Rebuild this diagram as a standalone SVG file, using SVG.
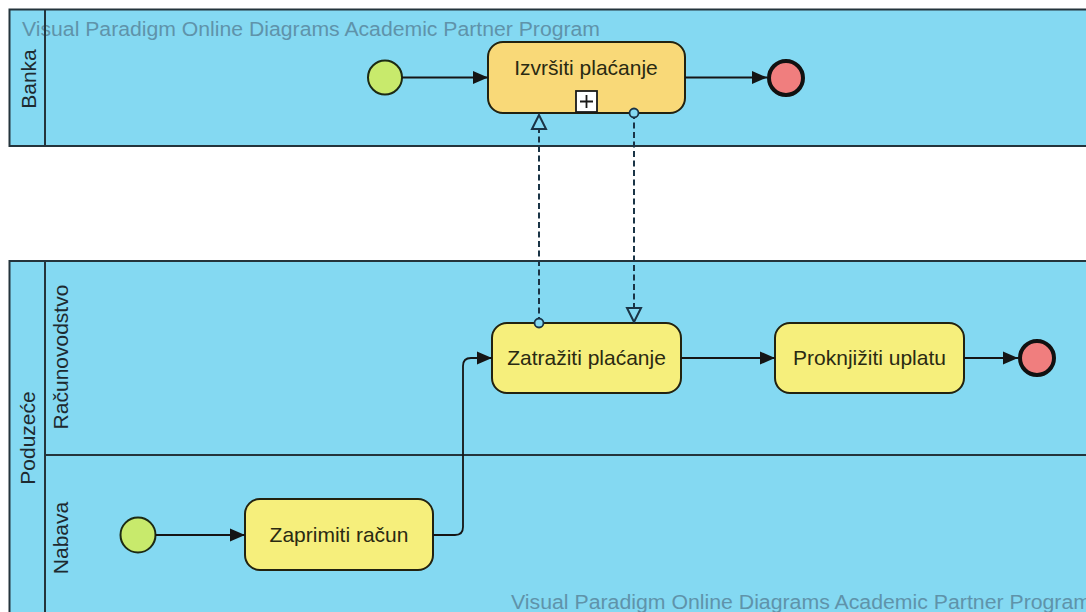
<svg xmlns="http://www.w3.org/2000/svg" width="1086" height="612" viewBox="0 0 1086 612">
<style>
.pool{fill:#84d9f2;stroke:#24343c;stroke-width:2}
.ln{stroke:#24343c;stroke-width:2;fill:none}
.lbl{font-family:"Liberation Sans",Arial,sans-serif;font-size:21px;fill:#1e2a30;text-anchor:middle}
.wm{font-family:"Liberation Sans",Arial,sans-serif;font-size:20px;fill:#5f93aa}
.taskA{fill:#f9d978;stroke:#222210;stroke-width:2}
.taskB{fill:#f6ef7c;stroke:#222210;stroke-width:2}
.tt{font-family:"Liberation Sans",Arial,sans-serif;font-size:21px;fill:#2a2a12;text-anchor:middle}
.start{fill:#c8ea6c;stroke:#1c2a14;stroke-width:2}
.end{fill:#f07e7e;stroke:#111;stroke-width:4}
.seq{stroke:#151515;stroke-width:1.8;fill:none;marker-end:url(#arr)}
.msg{stroke:#1a3446;stroke-width:2;fill:none;stroke-dasharray:6 3.5;marker-start:url(#mcirc);marker-end:url(#mtri)}
</style>
<defs>
<marker id="arr" markerUnits="userSpaceOnUse" markerWidth="16" markerHeight="16" refX="15" refY="8" orient="auto">
<path d="M0,1.5 L15,8 L0,14.5 z" fill="#151515"/>
</marker>
<marker id="mtri" markerUnits="userSpaceOnUse" markerWidth="18" markerHeight="18" refX="15" refY="9" orient="auto">
<path d="M1,2 L15,9 L1,16 z" fill="#84d9f2" stroke="#1a3446" stroke-width="2"/>
</marker>
<marker id="mcirc" markerUnits="userSpaceOnUse" markerWidth="12" markerHeight="12" refX="6" refY="6" orient="auto">
<circle cx="6" cy="6" r="4.5" fill="#84d9f2" stroke="#1a3446" stroke-width="1.8"/>
</marker>
</defs>

<g id="pool-banka">
<rect class="pool" x="9.5" y="9.5" width="1090" height="136.5"/>
<text class="wm" x="22" y="36" textLength="578" lengthAdjust="spacingAndGlyphs">Visual Paradigm Online Diagrams Academic Partner Program</text>
<line class="ln" x1="45" y1="9.5" x2="45" y2="146"/>
<text class="lbl" transform="translate(36,79) rotate(-90)">Banka</text>
</g>

<g id="pool-poduzece">
<rect class="pool" x="9.5" y="261" width="1090" height="360"/>
<line class="ln" x1="45" y1="261" x2="45" y2="620"/>
<line class="ln" x1="45" y1="455" x2="1090" y2="455"/>
<text class="lbl" transform="translate(35,438) rotate(-90)">Poduzeće</text>
<text class="lbl" transform="translate(68,357) rotate(-90)">Računovodstvo</text>
<text class="lbl" transform="translate(68,538) rotate(-90)">Nabava</text>
<text class="wm" x="511" y="609" textLength="580" lengthAdjust="spacingAndGlyphs">Visual Paradigm Online Diagrams Academic Partner Program</text>
</g>

<g id="start-banka"><circle class="start" cx="385" cy="77.5" r="17"/></g>
<g id="task-izvrsiti">
<rect class="taskA" x="488" y="42" width="197" height="71" rx="15"/>
<text class="tt" x="586" y="75">Izvršiti plaćanje</text>
<rect x="576" y="91" width="21" height="21" fill="#fff" stroke="#1a1a1a" stroke-width="1.8"/>
<path d="M580,101.5 H593 M586.5,95 V108" stroke="#1a1a1a" stroke-width="1.8"/>
</g>
<g id="end-banka"><circle class="end" cx="786" cy="78" r="17"/></g>

<g id="task-zatraziti">
<rect class="taskB" x="492" y="323" width="189" height="70" rx="15"/>
<text class="tt" x="586.5" y="365">Zatražiti plaćanje</text>
</g>
<g id="task-proknjiziti">
<rect class="taskB" x="775" y="323" width="189" height="70" rx="15"/>
<text class="tt" x="869.5" y="365">Proknjižiti uplatu</text>
</g>
<g id="end-racun"><circle class="end" cx="1037" cy="358" r="17"/></g>

<g id="start-nabava"><circle class="start" cx="138" cy="535" r="17.5"/></g>
<g id="task-zaprimiti">
<rect class="taskB" x="245" y="499" width="188" height="71" rx="15"/>
<text class="tt" x="339" y="542">Zaprimiti račun</text>
</g>

<g id="connectors">
<path class="seq" d="M402,77.5 H488"/>
<path class="seq" d="M685,77.5 H767"/>
<path class="seq" d="M155.5,535 H245"/>
<path class="seq" d="M433,535 H455 Q463,535 463,527 V366 Q463,358 471,358 H492"/>
<path class="seq" d="M681,358 H775"/>
<path class="seq" d="M964,358 H1018"/>
<path class="msg" d="M539,323 V115"/>
<path class="msg" d="M634,113 V322"/>
</g>
</svg>
